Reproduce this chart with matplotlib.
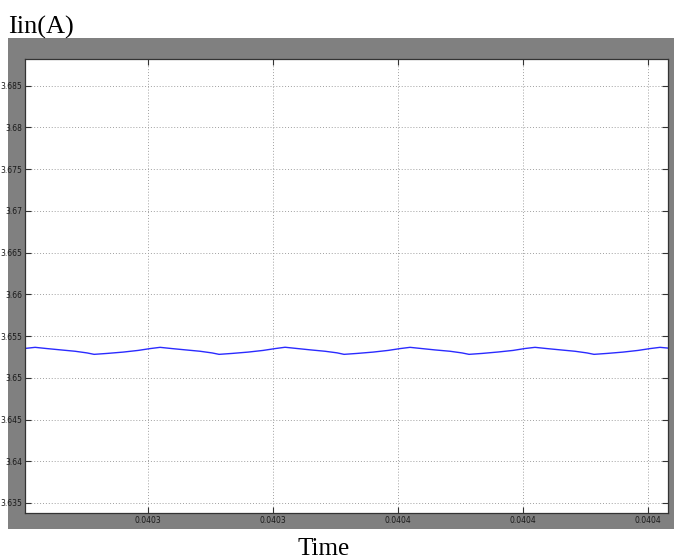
import numpy as np
import matplotlib
matplotlib.use("Agg")
import matplotlib.pyplot as plt
from matplotlib.patches import Rectangle

# --- data (time in microseconds, current in A) ---
time_us = [40240.64, 40243.84, 40247.68, 40251.84, 40256.64, 40260.48, 40262.72, 40266.88, 40272.00, 40276.80, 40280.64,
           40283.84, 40287.68, 40291.84, 40296.64, 40300.48, 40302.72, 40306.88, 40312.00, 40316.80, 40320.64,
           40323.84, 40327.68, 40331.84, 40336.64, 40340.48, 40342.72, 40346.88, 40352.00, 40356.80, 40360.64,
           40363.84, 40367.68, 40371.84, 40376.64, 40380.48, 40382.72, 40386.88, 40392.00, 40396.80, 40400.64,
           40403.84, 40407.68, 40411.84, 40416.64, 40420.48, 40422.72, 40426.88, 40432.00, 40436.80, 40440.64,
           40443.84, 40446.40]
iin = [3.65352, 3.65365, 3.65350, 3.65335, 3.65318, 3.65298, 3.65281, 3.65292, 3.65308, 3.65328, 3.65350,
       3.65365, 3.65350, 3.65335, 3.65318, 3.65298, 3.65281, 3.65292, 3.65308, 3.65328, 3.65350,
       3.65366, 3.65351, 3.65335, 3.65318, 3.65299, 3.65281, 3.65292, 3.65308, 3.65328, 3.65350,
       3.65365, 3.65350, 3.65334, 3.65318, 3.65298, 3.65281, 3.65292, 3.65309, 3.65328, 3.65351,
       3.65365, 3.65350, 3.65335, 3.65318, 3.65298, 3.65281, 3.65292, 3.65308, 3.65328, 3.65350,
       3.65365, 3.65356]

x_ticks = [0.04028, 0.04032, 0.04036, 0.04040, 0.04044]
x_tick_labels = ["0.0403", "0.0403", "0.0404", "0.0404", "0.0404"]
y_ticks = [3.635, 3.64, 3.645, 3.65, 3.655, 3.66, 3.665, 3.67, 3.675, 3.68, 3.685]
y_tick_labels = ["3.635", "3.64", "3.645", "3.65", "3.655", "3.66", "3.665", "3.67", "3.675", "3.68", "3.685"]

time = np.array(time_us) * 1e-6

# --- figure ---
W, H = 674, 560
fig = plt.figure(figsize=(W / 100, H / 100), dpi=100)

# gray MATLAB-like background panel (behind the axes)
fig.patches.append(Rectangle((8 / W, 1 - 529 / H), 1 - 8 / W, (529 - 38) / H,
                             transform=fig.transFigure, facecolor="#808080",
                             edgecolor="none", zorder=-5))

ax = fig.add_axes([25 / W, 1 - 513 / H, (668 - 25) / W, (513 - 59) / H])
ax.set_zorder(2)
ax.set_facecolor("white")
ax.plot(time, iin, color="#2b2bff", linewidth=1.0)

ax.set_xlim(0.0402406, 0.0404464)
ax.set_ylim(3.6338, 3.6882)

tick_font = dict(family=["Liberation Sans Narrow", "DejaVu Sans"], size=5.5, color="#1a1a1a")
ax.set_xticks(x_ticks)
ax.set_xticklabels(x_tick_labels, **tick_font)
ax.set_yticks(y_ticks)
ax.set_yticklabels(y_tick_labels, **tick_font)
ax.tick_params(direction="in", length=4, width=0.8, color="#333333",
               top=True, right=True, pad=2)

ax.grid(True, linestyle=(0, (1, 2)), color="#a0a0a0", linewidth=0.7)
for s in ax.spines.values():
    s.set_color("#333333")
    s.set_linewidth(0.9)

fig.text(8 / W, 1 - 34 / H, "Iin(A)", family="Liberation Serif", fontsize=19,
         ha="left", va="baseline")
fig.text(323.5 / W, 1 - 555 / H, "Time", family="Liberation Serif", fontsize=18,
         ha="center", va="baseline")

fig.savefig("out.png", dpi=100, facecolor="white")
